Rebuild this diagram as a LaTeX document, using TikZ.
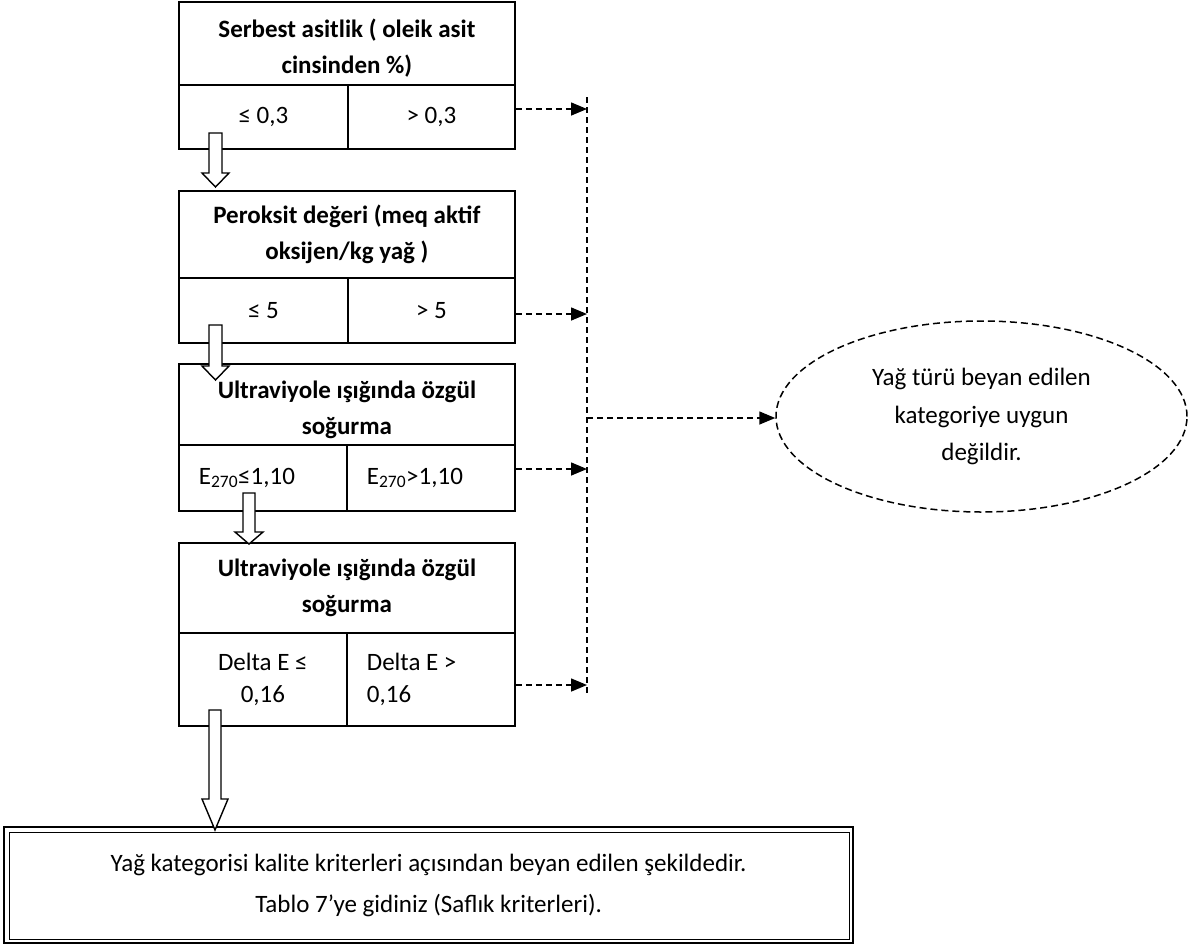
\documentclass[tikz,border=0pt]{standalone}
\usepackage{fontspec}
\setmainfont{Carlito}
\usetikzlibrary{arrows.meta,shapes.geometric,calc}

% hollow block arrow pointing down: #1 start, #2 tip, #3 shaft half width,
% #4 head half width, #5 head length
\newcommand{\hollowarrow}[5]{%
  \draw[blockarrow] let \p1=(#1), \p2=(#2) in
    (\x1-#3,\y1) -- (\x1+#3,\y1) -- (\x1+#3,\y2+#5) -- (\x1+#4,\y2+#5)
    -- (\x2,\y2) -- (\x1-#4,\y2+#5) -- (\x1-#3,\y2+#5) -- cycle;}

\begin{document}
\begin{tikzpicture}[x=1pt,y=-1pt,
  hdr/.style={draw, line width=1.8pt, fill=white, anchor=north west,
    minimum width=336pt, inner sep=0pt, align=center,
    font=\bfseries\fontsize{25}{36}\selectfont},
  cellc/.style={draw, line width=1.8pt, fill=white, anchor=north west,
    inner sep=0pt, align=center, font=\fontsize{25}{32}\selectfont},
  celll/.style={cellc, align=flush left, inner xsep=20pt, text width=128pt},
  blockarrow/.style={draw, line width=1.4pt, fill=white, line join=miter},
  dasharrow/.style={line width=1.5pt, dash pattern=on 6pt off 4pt,
    -{Triangle[length=16pt,width=13pt]}},
  dashline/.style={line width=1.5pt, dash pattern=on 6pt off 4pt},
]
\useasboundingbox (0,0) rectangle (1193,943);

% --- criterion 1: free acidity (header runs under the filled row cells)
\node[hdr, minimum height=93pt] (h1) at (178,1) {Serbest asitlik ( oleik asit\\cinsinden \%)};
\node[cellc, minimum width=169pt, minimum height=64pt] (r1a) at (178,84) {≤ 0,3};
\node[cellc, minimum width=167pt, minimum height=64pt] (r1b) at (347,84) {> 0,3};

% --- criterion 2: peroxide value
\node[hdr, minimum height=87pt] (h2) at (178,190) {Peroksit değeri (meq aktif\\oksijen/kg yağ )};
\node[cellc, minimum width=169pt, minimum height=65pt] (r2a) at (178,277) {≤ 5};
\node[cellc, minimum width=167pt, minimum height=65pt] (r2b) at (347,277) {> 5};

% --- criterion 3: UV absorption E270
\node[hdr, minimum height=91pt] (h3) at (178,363) {Ultraviyole ışığında özgül\\soğurma};
\node[celll, minimum height=66pt] (r3a) at (178,444) {E\textsubscript{270}≤1,10};
\node[celll, minimum height=66pt] (r3b) at (346,444) {E\textsubscript{270}>1,10};

% --- criterion 4: UV absorption Delta E
\node[hdr, minimum height=90pt] (h4) at (178,542) {Ultraviyole ışığında özgül\\soğurma};
\node[cellc, minimum width=168pt, minimum height=93pt] (r4a) at (178,632) {Delta E ≤\\0,16};
\node[celll, minimum height=93pt] (r4b) at (346,632) {Delta E >\\0,16};

% --- result boxes
\node[draw, dashed, dash pattern=on 7pt off 4pt, line width=1.5pt, ellipse,
  minimum width=411pt, minimum height=191pt, inner sep=0pt, align=center,
  font=\fontsize{25}{37.5}\selectfont] (ell) at (981.5,416.5)
  {Yağ türü beyan edilen\\kategoriye uygun\\değildir.};

\node[draw, line width=2.2pt, minimum width=849pt, minimum height=116pt,
  anchor=north west, inner sep=0pt, align=center,
  font=\fontsize{25}{41}\selectfont] (res) at (3,826)
  {Yağ kategorisi kalite kriterleri açısından beyan edilen şekildedir.\\Tablo 7’ye gidiniz (Saflık kriterleri).};
\draw[line width=1pt] ([shift={(6,6)}]res.north west) rectangle ([shift={(-5,-5)}]res.south east);

% --- hollow "pass" arrows
\coordinate (a1s) at (215.5,133); \coordinate (a1t) at (215.5,187);
\coordinate (a2s) at (215.5,325); \coordinate (a2t) at (215.5,380);
\coordinate (a3s) at (249,493);   \coordinate (a3t) at (249,544);
\coordinate (a4s) at (215,710);   \coordinate (a4t) at (215,830);
\hollowarrow{a1s}{a1t}{6.5pt}{13.5pt}{14pt}
\hollowarrow{a2s}{a2t}{6.5pt}{13.5pt}{14pt}
\hollowarrow{a3s}{a3t}{6pt}{14pt}{12pt}
\hollowarrow{a4s}{a4t}{6pt}{13pt}{31pt}

% --- dashed "fail" connectors
\coordinate (vtop) at (587,97);
\coordinate (vbot) at (587,693);
\coordinate (j1) at (587,109);
\coordinate (j2) at (587,314);
\coordinate (j3) at (587,469);
\coordinate (j4) at (587,685);
\coordinate (jb) at (587,418);
\draw[dashline] (vtop) -- (vbot);
\draw[dasharrow] (r1b.east |- j1) -- (j1);
\draw[dasharrow] (r2b.east |- j2) -- (j2);
\draw[dasharrow] (r3b.east |- j3) -- (j3);
\draw[dasharrow] (r4b.east |- j4) -- (j4);
\draw[dasharrow] (jb) -- (jb -| ell.west);
\end{tikzpicture}
\end{document}
